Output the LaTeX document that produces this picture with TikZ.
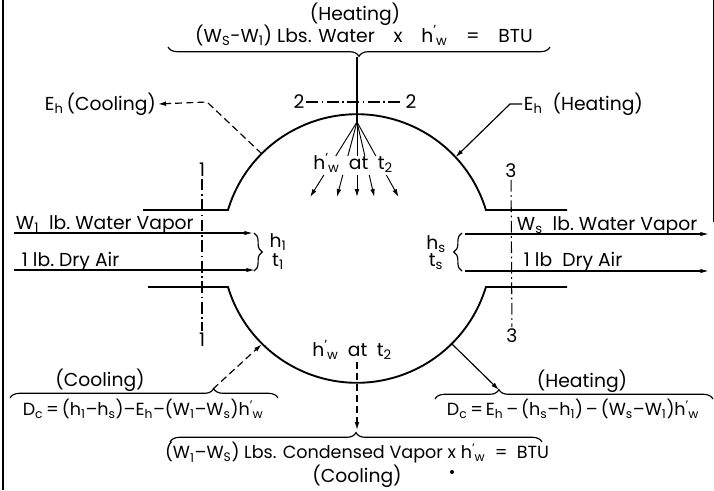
\documentclass[tikz,border=0pt]{standalone}
\usepackage{fontspec}
\setmainfont{Poppins}
\usetikzlibrary{arrows.meta,calc,decorations.pathreplacing}
\newcommand{\sbs}[1]{\textsubscript{#1}}
\newcommand{\hwp}{h\textsuperscript{'}\kern-0.5pt\textsubscript{w}}

\begin{document}
\begin{tikzpicture}[x=0.03cm,y=0.03cm,font=\fontsize{16}{18}\selectfont,
  every node/.style={inner sep=1.5pt},
  wall/.style={line width=1.6pt},
  lead/.style={line width=1pt},
  tip/.style={-{Latex[length=2.4mm,width=1.4mm]}},
  flow/.style={line width=1pt,-{Latex[length=2.6mm,width=1.3mm]}},
  secline/.style={line width=0.9pt,dash pattern=on 10pt off 3pt on 1.5pt off 3pt},
  leaddash/.style={line width=1pt,dash pattern=on 6pt off 3.5pt},
  eqn/.style={font=\fontsize{15}{17}\selectfont},
  bracedn/.style={line width=1pt,decorate,decoration={brace,mirror,amplitude=8pt,aspect=#1}},
  bracedn/.default=0.5,
  braceup/.style={line width=1pt,decorate,decoration={brace,amplitude=8pt,aspect=#1}},
  braceup/.default=0.5]
  \useasboundingbox (0,0) rectangle (714,-490);

  % frame edges of the scan
  \draw[line width=2pt] (3,0) -- (3,-490);
  \draw[line width=0.6pt] (713,0) -- (713,-222);

  % vessel
  \coordinate (O) at (357,-249);
  \draw[wall] (143,-210) -- (228,-210) arc[start angle=163.2, end angle=16.8, radius=134.7] -- (567,-210);
  \draw[wall] (148,-287) -- (228,-287) arc[start angle=196.8, end angle=343.2, radius=134.7] -- (567,-287);
  \coordinate (cw1) at ($(O)+(135:134.7)$);
  \coordinate (cw2) at ($(O)+(43:134.7)$);
  \coordinate (cw3) at ($(O)+(225:134.7)$);
  \coordinate (cw4) at ($(O)+(315:134.7)$);

  % section lines
  \node (s1t) at (202,-170) {1};
  \node (s1b) at (202,-340) {1};
  \node (s2l) at (299,-102) {2};
  \node (s2r) at (411,-102) {2};
  \node (s3t) at (511,-171) {3};
  \node (s3b) at (512,-336) {3};
  \draw[secline] (s1t) -- (s1b);
  \draw[secline] (s2l) -- (s2r);
  \draw[secline] (s3t) -- (s3b);

  % top: heating water
  \node (heattop) at (355,-14) {(Heating)};
  \node (heateq) at (364,-35) {(W\sbs{S}-W\sbs{1}) Lbs. Water\quad x\quad \hwp\quad =\quad BTU};
  \draw[bracedn] (168,-47) -- (550,-47);
  \coordinate (toptip) at (357,-57);
  \coordinate (fanorg) at (357,-122);
  \draw[lead] (toptip) -- (fanorg);
  \node (fanlbl) at (353,-163) {\hwp\hspace{0.5em}at\hspace{0.5em}t\sbs{2}};
  \foreach \a in {-32,-15,0,13,29} {
    \draw[line width=0.8pt] (fanorg) -- ($(fanorg)+(270+\a:{34/cos(\a)})$);
    \draw[line width=0.8pt,tip] ($(fanorg)+(270+\a:{53/cos(\a)})$) -- ($(fanorg)+(270+\a:{75/cos(\a)})$);
  }

  % E_h leaders
  \node[anchor=east] (ehcool) at (158,-104) {E\sbs{h}\,(Cooling)};
  \draw[leaddash,tip] (cw1) -- (207,-102) -- (ehcool.east);
  \node[anchor=west] (ehheat) at (522,-104) {E\sbs{h}\ \ (Heating)};
  \draw[lead,tip] (ehheat.west) -- ++(-12,0) -- (cw2);

  % inlet streams
  \coordinate (in1a) at (14,-233);  \coordinate (in1b) at (253,-233);
  \coordinate (in2a) at (14,-270);  \coordinate (in2b) at (255,-270);
  \draw[flow] (in1a) -- (in1b);
  \draw[flow] (in2a) -- (in2b);
  \node[anchor=base west] (wv1) at (14,-229) {W\sbs{1}\ \ lb.\ Water Vapor};
  \node[anchor=base west] (da1) at (20,-266) {1\ lb.\ Dry Air};
  \draw[line width=1pt,decorate,decoration={brace,amplitude=7pt}] (254,-233) -- (254,-271);
  \node (h1) at (278,-242) {h\sbs{1}};
  \node (t1) at (278,-262) {t\sbs{1}};

  % outlet streams
  \coordinate (out1a) at (465,-234);  \coordinate (out1b) at (709,-234);
  \coordinate (out2a) at (465,-271);  \coordinate (out2b) at (709,-271);
  \draw[flow] (out1a) -- (out1b);
  \draw[flow] (out2a) -- (out2b);
  \node[anchor=base west] (wvs) at (515,-230) {W\sbs{s}\ \ lb.\ Water Vapor};
  \node[anchor=base west] (das) at (522,-266) {1\ lb\ \ Dry\ Air};
  \draw[line width=1pt,decorate,decoration={brace,mirror,amplitude=7pt}] (462,-233) -- (462,-271);
  \node (hs) at (436,-244) {h\sbs{s}};
  \node (ts) at (436,-262) {t\sbs{s}};

  % bottom: condensed water
  \node (botlbl) at (352,-350) {\hwp\hspace{0.5em}at\hspace{0.5em}t\sbs{2}};
  \draw[braceup] (170,-442) -- (542,-442);
  \coordinate (bottip) at (357,-430);
  \draw[leaddash,tip] (botlbl.south -| bottip) -- (bottip);
  \node[eqn] (condeq) at (357,-453) {(W\sbs{1}--W\sbs{S}) Lbs. Condensed Vapor x \hwp\ \ =\ \ BTU};
  \node (coolb) at (357,-476) {(Cooling)};
  \fill (452,-472) circle (2);

  % cooling balance
  \node (coolL) at (100,-380) {(Cooling)};
  \draw[braceup=0.76] (10,-398) -- (278,-398);
  \coordinate (ltip) at (213,-389);
  \draw[leaddash,tip] (ltip) -- (cw3);
  \node[eqn] (eqL) at (143,-409) {D\sbs{c}\,=\,(h\sbs{1}--h\sbs{s})--E\sbs{h}--(W\sbs{1}--W\sbs{s})\hwp};

  % heating balance
  \node (heatR) at (582,-381) {(Heating)};
  \draw[braceup=0.23] (435,-399) -- (713,-399);
  \coordinate (rtip) at (499,-390);
  \draw[lead,tip] (cw4) -- (rtip);
  \node[eqn] (eqR) at (573,-409) {D\sbs{c}\,=\,E\sbs{h}\,--\,(h\sbs{s}--h\sbs{1})\,--\,(W\sbs{s}--W\sbs{1})\hwp};
\end{tikzpicture}
\end{document}
